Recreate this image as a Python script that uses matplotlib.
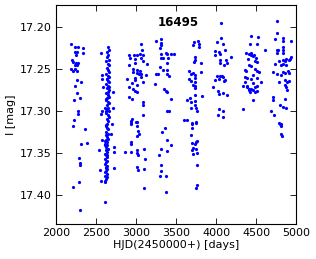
import matplotlib
matplotlib.use("Agg")
import matplotlib.pyplot as plt

# season-by-season photometry
s1_hjd = [2191, 2241, 2275, 2341, 2241, 2266, 2341, 2250, 2200, 2216, 2250, 2275, 2233, 2258,
          2191, 2208, 2241, 2258, 2266, 2316, 2233, 2266, 2300, 2225, 2275, 2275, 2225, 2208,
          2366, 2308, 2391, 2291, 2300, 2300, 2291, 2216, 2300]
s1_mag = [17.221, 17.224, 17.224, 17.231, 17.230, 17.230, 17.225, 17.234, 17.240, 17.242, 17.243, 17.243, 17.245, 17.246,
          17.250, 17.252, 17.250, 17.252, 17.263, 17.266, 17.270, 17.279, 17.285, 17.287, 17.300, 17.304, 17.311, 17.318,
          17.321, 17.339, 17.338, 17.356, 17.362, 17.364, 17.384, 17.391, 17.418]

s2_hjd = [2650, 2662, 2635, 2655, 2642, 2665, 2628, 2650, 2660, 2636, 2652, 2666, 2630, 2648,
          2658, 2640, 2651, 2664, 2626, 2646, 2660, 2634, 2667, 2650, 2628, 2655, 2662, 2640,
          2624, 2650, 2664, 2632, 2655, 2641, 2660, 2626, 2648, 2665, 2632, 2651, 2640, 2622,
          2636, 2656, 2628, 2648, 2620, 2634, 2650, 2624, 2640, 2618, 2636, 2626, 2645, 2620,
          2634, 2616, 2630, 2644, 2618, 2636, 2624, 2614, 2632, 2620, 2642, 2626, 2612, 2634,
          2618, 2638, 2622, 2614, 2639, 2626, 2612, 2630, 2618, 2636, 2622, 2612, 2628, 2618,
          2560, 2575, 2570, 2585, 2565, 2580, 2540, 2555, 2560, 2580, 2616,
          2715, 2720, 2725, 2725, 2710, 2700, 2690]
s2_mag = [17.224, 17.227, 17.230, 17.233, 17.236, 17.239, 17.241, 17.244, 17.246, 17.249, 17.251, 17.254, 17.256, 17.258,
          17.260, 17.262, 17.264, 17.266, 17.268, 17.270, 17.271, 17.273, 17.275, 17.277, 17.279, 17.281, 17.283, 17.285,
          17.287, 17.289, 17.291, 17.293, 17.296, 17.298, 17.300, 17.302, 17.305, 17.307, 17.310, 17.312, 17.315, 17.317,
          17.320, 17.322, 17.325, 17.327, 17.329, 17.331, 17.333, 17.335, 17.337, 17.339, 17.341, 17.343, 17.345, 17.347,
          17.349, 17.351, 17.353, 17.355, 17.357, 17.359, 17.361, 17.363, 17.365, 17.367, 17.369, 17.371, 17.373, 17.375,
          17.377, 17.379, 17.381, 17.383, 17.262, 17.286, 17.296, 17.318, 17.336, 17.352, 17.368, 17.385, 17.300, 17.340,
          17.231, 17.257, 17.262, 17.271, 17.304, 17.334, 17.347, 17.370, 17.383, 17.300, 17.408,
          17.296, 17.343, 17.349, 17.368, 17.278, 17.315, 17.327]

s3_hjd = [3058, 3075, 2916, 2975, 3008, 3050, 3083, 2925, 2991, 3066, 2991, 3091, 3133, 2908,
          2966, 3016, 3050, 2958, 3008, 3033, 3058, 2991, 3125, 3058, 2891, 2991, 3083, 2950,
          3016, 2908, 2958, 2991, 3016, 2916, 2950, 3083, 3091, 3083, 2950, 2933, 3000,
          2933, 3008, 2941, 3008, 3025, 3033, 3016, 2933, 2941, 2866, 2941, 3016, 3016, 3100,
          3025, 3108, 3016, 3025, 3100, 3100]
s3_mag = [17.220, 17.227, 17.233, 17.233, 17.233, 17.232, 17.234, 17.237, 17.238, 17.237, 17.243, 17.241, 17.244, 17.245,
          17.250, 17.251, 17.252, 17.254, 17.255, 17.256, 17.256, 17.261, 17.257, 17.260, 17.262, 17.263, 17.266, 17.267,
          17.269, 17.271, 17.274, 17.276, 17.277, 17.284, 17.286, 17.289, 17.293, 17.305, 17.310, 17.312, 17.313,
          17.314, 17.313, 17.316, 17.318, 17.324, 17.327, 17.330, 17.337, 17.339, 17.349, 17.349, 17.346, 17.350, 17.345,
          17.352, 17.357, 17.367, 17.370, 17.369, 17.392]

s4_hjd = [3316, 3250, 3308, 3308, 3300, 3375, 3391, 3441, 3308, 3308, 3333, 3400, 3383, 3300,
          3333, 3391, 3250, 3275, 3391, 3416, 3233, 3350, 3375, 3391, 3441, 3383, 3408,
          3358, 3325, 3383, 3441, 3316, 3383, 3291, 3308, 3316, 3300, 3375, 3375, 3475]
s4_mag = [17.214, 17.217, 17.219, 17.222, 17.225, 17.231, 17.232, 17.232, 17.232, 17.237, 17.237, 17.237, 17.243, 17.248,
          17.251, 17.251, 17.256, 17.256, 17.256, 17.259, 17.268, 17.274, 17.276, 17.277, 17.286, 17.300, 17.300,
          17.320, 17.325, 17.335, 17.341, 17.345, 17.348, 17.352, 17.364, 17.371, 17.377, 17.377, 17.396, 17.232]

s5_hjd = [3725, 3775, 3791, 3716, 3783, 3741, 3733, 3725, 3808, 3666, 3683, 3716, 3733, 3808,
          3666, 3683, 3733, 3741, 3716, 3741, 3733, 3741, 3825, 3675, 3641, 3683, 3733,
          3741, 3750, 3766, 3683, 3633, 3700, 3750, 3600, 3750, 3700, 3700, 3683, 3700, 3750,
          3766, 3741, 3708, 3700, 3708, 3750, 3766, 3766, 3766, 3750]
s5_mag = [17.218, 17.217, 17.221, 17.222, 17.224, 17.236, 17.239, 17.242, 17.243, 17.253, 17.256, 17.255, 17.257, 17.254,
          17.262, 17.264, 17.261, 17.266, 17.269, 17.270, 17.273, 17.281, 17.282, 17.285, 17.287, 17.289, 17.288,
          17.293, 17.297, 17.300, 17.297, 17.311, 17.314, 17.313, 17.311, 17.314, 17.316, 17.320, 17.329, 17.338, 17.337,
          17.336, 17.339, 17.344, 17.347, 17.351, 17.345, 17.350, 17.364, 17.388, 17.392]

s6_hjd = [4066, 4058, 4016, 4091, 3983, 4041, 4050, 3983, 4116, 4191, 4050, 4125, 4050, 4133,
          4100, 4016, 4050, 4075, 4091, 4108, 4100, 4041, 3991, 3966, 4025, 4033, 4091, 4133,
          4033, 4091, 4025, 4083]
s6_mag = [17.196, 17.213, 17.218, 17.220, 17.229, 17.230, 17.232, 17.234, 17.228, 17.236, 17.239, 17.239, 17.243, 17.243,
          17.245, 17.258, 17.259, 17.258, 17.260, 17.263, 17.265, 17.262, 17.263, 17.271, 17.276, 17.280, 17.279, 17.281,
          17.298, 17.300, 17.305, 17.307]

s7_hjd = [4433, 4525, 4425, 4516, 4608, 4375, 4416, 4441, 4475, 4458, 4433, 4400, 4500, 4491, 4508,
          4416, 4441, 4358, 4375, 4491, 4508, 4533, 4466, 4358, 4383, 4516, 4441,
          4366, 4458, 4558, 4383, 4341, 4383, 4408, 4441, 4491, 4516, 4416, 4466, 4508, 4425, 4491,
          4458, 4341]
s7_mag = [17.211, 17.212, 17.220, 17.220, 17.228, 17.231, 17.232, 17.231, 17.234, 17.235, 17.234, 17.238, 17.237, 17.241, 17.242,
          17.245, 17.247, 17.251, 17.253, 17.250, 17.252, 17.254, 17.257, 17.260, 17.261, 17.261, 17.262,
          17.266, 17.267, 17.266, 17.270, 17.270, 17.272, 17.274, 17.274, 17.272, 17.270, 17.275, 17.275, 17.276, 17.278, 17.277,
          17.287, 17.298]

s8_hjd = [4758, 4758, 4741, 4841, 4833, 4933, 4841, 4833, 4758, 4766, 4775, 4841, 4941,
          4875, 4833, 4858, 4791, 4908, 4925, 4816, 4841, 4741, 4875,
          4708, 4766, 4841, 4866, 4900, 4908, 4816, 4858, 4891, 4916, 4783, 4866, 4875, 4891,
          4716, 4708, 4800, 4833, 4866, 4875, 4683, 4725, 4791, 4800, 4808, 4808, 4816, 4825]
s8_mag = [17.193, 17.207, 17.214, 17.213, 17.217, 17.217, 17.224, 17.227, 17.228, 17.231, 17.227, 17.231, 17.236,
          17.238, 17.240, 17.241, 17.241, 17.240, 17.238, 17.245, 17.244, 17.244, 17.245,
          17.254, 17.256, 17.254, 17.255, 17.253, 17.255, 17.257, 17.263, 17.266, 17.265, 17.266, 17.269, 17.272, 17.275,
          17.284, 17.287, 17.293, 17.295, 17.286, 17.296, 17.300, 17.305, 17.314, 17.316, 17.315, 17.318, 17.327, 17.330]

hjd = s1_hjd + s2_hjd + s3_hjd + s4_hjd + s5_hjd + s6_hjd + s7_hjd + s8_hjd
mag = s1_mag + s2_mag + s3_mag + s4_mag + s5_mag + s6_mag + s7_mag + s8_mag
star = "16495"

plt.rcParams['font.size'] = 8
fig = plt.figure(figsize=(3.16, 2.59), dpi=100)
ax = fig.add_axes([0.177, 0.135, 0.76, 0.846])
ax.plot(hjd, mag, 'o', color='blue', ms=2.3, mec='none')
ax.set_xlim(2000, 5000)
ax.set_ylim(17.4345, 17.174)
ax.set_xticks([2000, 2500, 3000, 3500, 4000, 4500, 5000])
ax.set_yticks([17.20, 17.25, 17.30, 17.35, 17.40])
ax.set_yticklabels(["17.20", "17.25", "17.30", "17.35", "17.40"])
ax.tick_params(direction='in', top=True, right=True, length=4, width=0.6, pad=3)
for s in ax.spines.values():
    s.set_linewidth(0.8)
ax.set_xlabel("HJD(2450000+) [days]", labelpad=1)
ax.set_ylabel("I [mag]", labelpad=3)
ax.text(0.51, 0.92, star, transform=ax.transAxes, ha='center', va='center',
        fontsize=8.5, fontweight='bold')
fig.savefig("out.png", dpi=100)
